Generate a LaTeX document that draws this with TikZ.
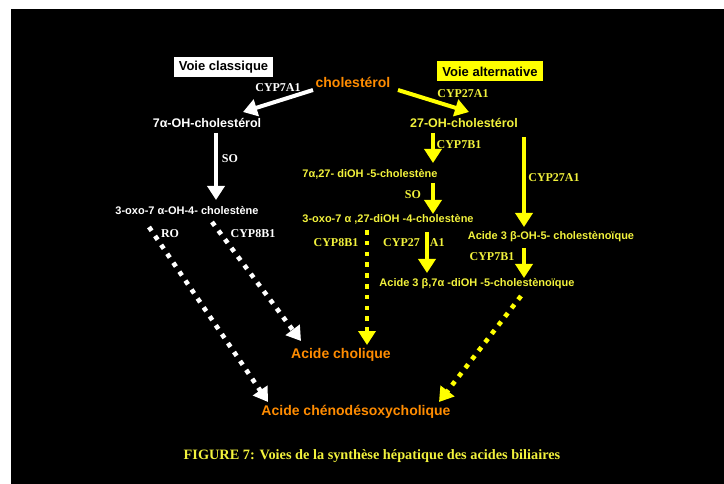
\documentclass[tikz,border=0pt]{standalone}
\usepackage{fontspec}
\setmainfont{Liberation Serif}
\setsansfont{Liberation Sans}
\usetikzlibrary{arrows.meta}
\definecolor{orng}{RGB}{255,140,0}
\definecolor{ylw}{RGB}{255,255,0}
\definecolor{ytxt}{RGB}{242,242,60}
\begin{document}
\begin{tikzpicture}[x=1pt,y=-1pt,
 lab/.style={font=\fontsize{12}{12}\selectfont\rmfamily\bfseries, inner sep=0},
 mol/.style={font=\fontsize{12.5}{12.5}\selectfont\sffamily\bfseries, inner sep=0},
 smol/.style={font=\fontsize{11}{11}\selectfont\sffamily\bfseries, inner sep=0},
 big/.style={font=\fontsize{14}{14}\selectfont\sffamily\bfseries, text=orng, inner sep=0},
 tag/.style={font=\fontsize{13}{13}\selectfont\sffamily\bfseries, text=black, inner sep=0, minimum height=20pt},
 solidarr/.style={line width=4pt, -{Triangle[width=17pt,length=14pt]}},
 dotarr/.style={line width=4.6pt, dash pattern=on 4.6pt off 6.2pt, -{Triangle[width=17pt,length=14pt]}},
]
\useasboundingbox (0,0) rectangle (724,484);
\fill[white] (0,0) rectangle (724,484);
\fill[black] (11,9) rectangle (724,484);

% tags
\node[tag, fill=white, minimum width=99pt] (vc) at (223.5,67) {Voie classique};
\node[tag, fill=ylw, minimum width=106pt] (va) at (490,71.5) {Voie alternative};

% main nodes
\node[big] (chol) at (353,82) {cholestérol};
\node[mol, text=white] (oh7) at (207,123) {7α-OH-cholestérol};
\node[mol, text=ytxt] (oh27) at (464,123) {27-OH-cholestérol};
\node[smol, text=white] (oxo) at (187,211) {3-oxo-7 α-OH-4- cholestène};
\node[smol, text=ytxt] (d27) at (370,174) {7α,27- diOH -5-cholestène};
\node[smol, text=ytxt] (oxo27) at (388,219) {3-oxo-7 α ,27-diOH -4-cholestène};
\node[smol, text=ytxt] (ac3b) at (551,237) {Acide 3 β-OH-5- cholestènoïque};
\node[smol, text=ytxt] (ac37) at (477,284) {Acide 3 β,7α -diOH -5-cholestènoïque};
\node[big] (ca) at (341,355) {Acide cholique};
\node[big] (cdca) at (356,412) {Acide chénodésoxycholique};

% enzyme labels
\node[lab, text=white] (l1) at (278,88) {CYP7A1};
\node[lab, text=ytxt] (l2) at (463,94) {CYP27A1};
\node[lab, text=white] (l3) at (230,159) {SO};
\node[lab, text=white] (l4) at (170,234) {RO};
\node[lab, text=white] (l5) at (253,234) {CYP8B1};
\node[lab, text=ytxt] (l6) at (459,145) {CYP7B1};
\node[lab, text=ytxt] (l7) at (413,195) {SO};
\node[lab, text=ytxt] (l8) at (336,243) {CYP8B1};
\node[lab, text=ytxt, anchor=west] (l9) at (383,243) {CYP27\hspace{10pt}A1};
\node[lab, text=ytxt] (l10) at (554,178) {CYP27A1};
\node[lab, text=ytxt] (l11) at (492,257) {CYP7B1};

% caption
\node[font=\fontsize{14.3}{14.3}\selectfont\rmfamily\bfseries, text=ytxt, inner sep=0] (cap) at (372,456) {FIGURE 7: Voies de la synthèse hépatique des acides biliaires};

% connector end points
\coordinate (a1s) at (313,90);  \coordinate (a1e) at (243,112);
\coordinate (a2s) at (398,90);  \coordinate (a2e) at (469,112);
\coordinate (a3s) at (216,133); \coordinate (a3e) at (216,200);
\coordinate (a4s) at (149,227); \coordinate (a4e) at (268,402);
\coordinate (a5s) at (212,222); \coordinate (a5e) at (301,341);
\coordinate (a6s) at (433,133); \coordinate (a6e) at (433,163);
\coordinate (a7s) at (433,183); \coordinate (a7e) at (433,214);
\coordinate (a8s) at (367,230); \coordinate (a8e) at (367,345);
\coordinate (a9s) at (427,232); \coordinate (a9e) at (427,273);
\coordinate (a10s) at (524,137); \coordinate (a10e) at (524,227);
\coordinate (a11s) at (524,248); \coordinate (a11e) at (524,278);
\coordinate (a12s) at (521,296); \coordinate (a12e) at (439,402);

% connectors
\draw[solidarr, white] (a1s) -- (a1e);
\draw[solidarr, ylw] (a2s) -- (a2e);
\draw[solidarr, white] (a3s) -- (a3e);
\draw[dotarr, white] (a4s) -- (a4e);
\draw[dotarr, white] (a5s) -- (a5e);
\draw[solidarr, ylw] (a6s) -- (a6e);
\draw[solidarr, ylw] (a7s) -- (a7e);
\draw[dotarr, ylw] (a8s) -- (a8e);
\draw[solidarr, ylw] (a9s) -- (a9e);
\draw[solidarr, ylw] (a10s) -- (a10e);
\draw[solidarr, ylw] (a11s) -- (a11e);
\draw[dotarr, ylw] (a12s) -- (a12e);
\end{tikzpicture}
\end{document}
